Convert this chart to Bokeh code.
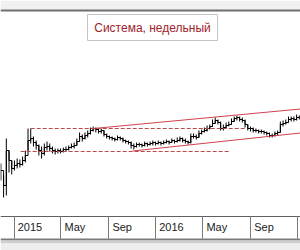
import pandas as pd
from bokeh.plotting import figure
from bokeh.models import Range1d, FixedTicker, BoxAnnotation, Label, ColumnDataSource
from bokeh.embed import file_html
from bokeh.resources import INLINE

# ---------------- data ----------------
title_text = "Система, недельный"
first_week = "2014-11-28"

closes = [14.6, 13.1, 16.6, 15.6, 14.8, 15.1, 15.3, 15.2, 15.6, 16.1,
          17.6, 17.8, 17.4, 17.1, 16.6, 16.3, 16.9, 17.0, 16.8, 16.6,
          16.5, 16.6, 16.5, 16.7, 16.7, 16.9, 17.0, 17.1, 17.5, 18.0,
          17.8, 18.1, 18.3, 18.6, 18.8, 18.7, 18.5, 18.6, 18.2, 18.0,
          17.9, 17.8, 17.7, 17.9, 17.8, 17.6, 17.5, 17.4, 17.1, 17.0,
          17.2, 17.2, 17.1, 17.3, 17.2, 17.3, 17.4, 17.3, 17.4, 17.3,
          17.4, 17.5, 17.4, 17.6, 17.5, 17.6, 17.8, 17.6, 17.5, 17.4,
          18.0, 18.0, 17.9, 18.3, 18.5, 18.6, 18.8, 19.0, 19.3, 19.6,
          19.4, 18.8, 18.9, 19.1, 19.2, 19.5, 19.8, 19.9, 19.7, 19.6,
          19.2, 18.8, 18.8, 18.6, 18.6, 18.5, 18.5, 18.4, 18.3, 18.1,
          18.1, 18.3, 18.4, 19.2, 19.3, 19.4, 19.7, 19.8, 19.7, 19.9,
          19.9]
highs = [15.3, 14.1, 17.8, 16.6, 15.6, 15.6, 15.8, 15.7, 16.0, 16.6,
         18.8, 18.8, 18.0, 17.6, 17.2, 17.0, 17.3, 17.5, 17.3, 17.0,
         16.8, 16.8, 16.8, 16.9, 17.0, 17.1, 17.3, 17.4, 17.8, 18.4,
         18.2, 18.4, 18.6, 18.9, 19.0, 18.9, 18.8, 18.8, 18.6, 18.3,
         18.1, 18.0, 17.9, 18.1, 18.0, 17.9, 17.7, 17.6, 17.5, 17.3,
         17.4, 17.4, 17.3, 17.5, 17.4, 17.5, 17.6, 17.5, 17.6, 17.5,
         17.6, 17.7, 17.6, 17.8, 17.7, 17.9, 18.0, 17.9, 17.8, 17.6,
         18.3, 18.3, 18.2, 18.6, 18.7, 18.9, 19.1, 19.2, 19.7, 19.9,
         19.7, 19.5, 19.2, 19.4, 19.5, 19.8, 20.0, 20.1, 20.0, 19.9,
         19.7, 19.2, 19.0, 18.9, 18.8, 18.7, 18.7, 18.6, 18.5, 18.4,
         18.3, 18.5, 18.6, 19.5, 19.6, 19.7, 20.0, 20.0, 20.0, 20.2,
         20.1]
lows = [13.6, 11.9, 12.1, 14.4, 14.2, 14.6, 14.8, 14.9, 15.1, 15.4,
        16.6, 17.3, 17.0, 16.7, 16.1, 15.8, 16.1, 16.6, 16.5, 16.3,
        16.2, 16.3, 16.3, 16.4, 16.5, 16.6, 16.8, 16.8, 17.1, 17.5,
        17.5, 17.7, 17.9, 18.2, 18.5, 18.4, 18.3, 18.3, 18.0, 17.8,
        17.7, 17.6, 17.5, 17.6, 17.6, 17.4, 17.3, 17.2, 16.8, 16.7,
        16.9, 17.0, 16.9, 17.0, 17.0, 17.1, 17.1, 17.1, 17.2, 17.1,
        17.2, 17.3, 17.2, 17.4, 17.3, 17.4, 17.5, 17.4, 17.3, 17.2,
        17.3, 17.8, 17.7, 17.9, 18.2, 18.4, 18.5, 18.7, 19.0, 19.3,
        19.2, 18.6, 18.6, 18.8, 19.0, 19.2, 19.5, 19.6, 19.5, 19.4,
        18.9, 18.6, 18.5, 18.4, 18.4, 18.3, 18.3, 18.2, 18.1, 17.9,
        17.9, 18.0, 18.1, 18.4, 19.0, 19.2, 19.4, 19.5, 19.5, 19.6,
        19.7]

# trend channel (solid red)
channel_dates = ["2015-07-25", "2017-01-09"]
channel_upper = [18.8, 20.75]
channel_lower_dates = ["2015-11-03", "2017-01-09"]
channel_lower = [16.55, 18.35]

# horizontal levels (dashed)
level_upper_dates = ["2015-02-13", "2016-08-20"]
level_upper = 18.8
level_lower_dates = ["2015-01-18", "2016-07-12"]
level_lower = 16.5

# axis
separator_dates = ["2015-01-01", "2015-05-01", "2015-09-01", "2016-01-01",
                   "2016-05-01", "2016-09-01", "2017-01-01"]
tick_labels = ["2015", "May", "Sep", "2016", "May", "Sep"]

# ---------------- style / layout ----------------
label_offset_days = [41, 37, 36, 41, 37, 36]
axis_level = 10.0          # price level where the time axis sits (frame bottom)


def ms(d):
    return int(pd.Timestamp(d).value // 10**6)


dates = pd.date_range(first_week, periods=len(closes), freq="7D")
src = ColumnDataSource(dict(date=dates, close=closes, high=highs, low=lows))

p = figure(width=300, height=250, x_axis_type="datetime",
           output_backend="svg", toolbar_location=None,
           x_range=Range1d(pd.Timestamp("2014-11-27"), pd.Timestamp("2017-01-09")),
           y_range=Range1d(6.6, 31.6),
           y_axis_location=None, title_location=None,
           min_border_left=0, min_border_right=0,
           min_border_top=0, min_border_bottom=0)
p.background_fill_color = "white"
p.border_fill_color = "white"
p.outline_line_color = None
p.xgrid.visible = False
p.ygrid.visible = False


def cbox(l, r, t, b, fill, line=None, level="underlay"):
    return BoxAnnotation(left=l, right=r, top=t, bottom=b,
                         left_units="canvas", right_units="canvas",
                         top_units="canvas", bottom_units="canvas",
                         fill_color=fill, fill_alpha=1.0, level=level,
                         line_color=line, line_alpha=1.0 if line else 0.0)


# chrome: top strip, bottom border & shadow
p.add_layout(cbox(0, 300, 0, 9, "#f0f0f0"))
p.add_layout(cbox(0, 300, 9, 11, "#6e6e6e"))
p.add_layout(cbox(0, 300, 238, 240, "#7a7a7a"))
p.add_layout(cbox(0, 300, 240, 243, "#cfcfcf"))
p.add_layout(cbox(0, 300, 243, 250, "#eeeeee"))

# price bars
p.segment(x0="date", y0="low", x1="date", y1="high", source=src,
          line_color="black", line_width=1)
p.step(x="date", y="close", source=src, mode="after",
       line_color="black", line_width=1)

# levels
p.line(x=pd.to_datetime(level_upper_dates), y=[level_upper, level_upper],
       line_color="#b84a4a", line_width=1, line_dash="4 2")
p.line(x=pd.to_datetime(level_lower_dates), y=[level_lower, level_lower],
       line_color="#b84a4a", line_width=1, line_dash="4 2")
# channel
p.line(x=pd.to_datetime(channel_dates), y=channel_upper,
       line_color="#d0404f", line_width=1)
p.line(x=pd.to_datetime(channel_lower_dates), y=channel_lower,
       line_color="#d0404f", line_width=1)

# x axis (fixed inside the frame at the band's top edge)
sep_ticks = [ms(d) for d in separator_dates]
label_ticks = [ms(pd.Timestamp(d) + pd.Timedelta(days=o))
               for d, o in zip(separator_dates[:-1], label_offset_days)]
ax = p.xaxis[0]
ax.fixed_location = axis_level
ax.ticker = FixedTicker(ticks=label_ticks, minor_ticks=sep_ticks)
ax.major_label_overrides = {t: lab for t, lab in zip(label_ticks, tick_labels)}
ax.major_tick_out = 0
ax.major_tick_in = 0
ax.minor_tick_out = 22
ax.minor_tick_in = 0
ax.minor_tick_line_color = "#7a7a7a"
ax.axis_line_color = "#606060"
ax.major_label_standoff = -18
ax.major_label_text_font = "Liberation Sans"
ax.major_label_text_font_size = "11px"
ax.major_label_text_color = "#222222"

# title box
p.add_layout(cbox(87, 217, 14, 40, "white", "#c4c4c4", level="annotation"))
p.add_layout(Label(x=152, y=27, x_units="canvas", y_units="canvas",
                   text=title_text, text_align="center", text_baseline="middle",
                   text_color="#a0232d", text_font="Liberation Sans",
                   text_font_size="12px"))

open("out.html", "w").write(file_html(p, INLINE))
